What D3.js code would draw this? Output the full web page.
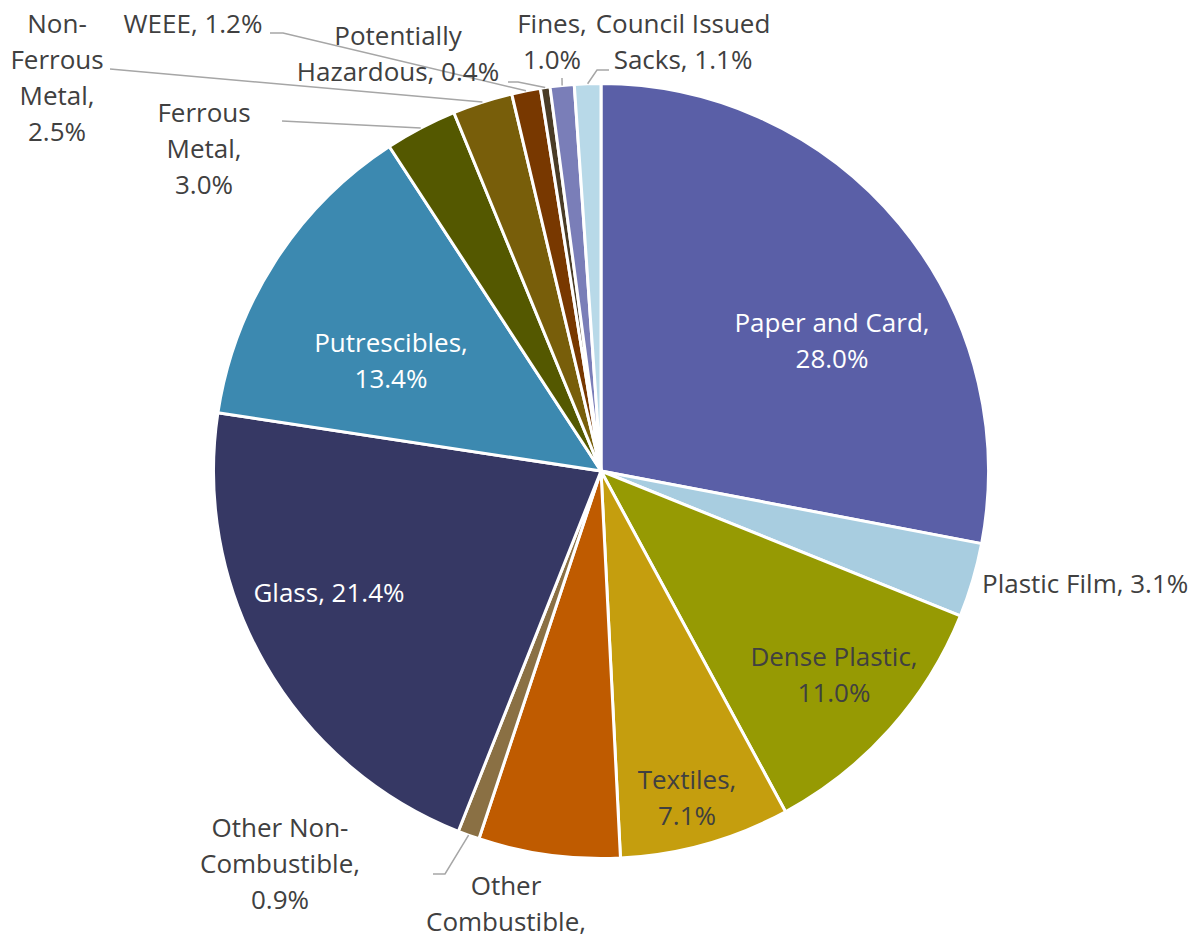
<!DOCTYPE html>
<html>
<head>
<meta charset="utf-8">
<script src="https://cdn.jsdelivr.net/npm/d3@7"></script>
<style>
  html, body { margin: 0; padding: 0; background: #fff; }
  svg { display: block; }
  text { font-family: "Open Sans", "Noto Sans", sans-serif; font-size: 26px; }
</style>
</head>
<body>
<svg id="chart" width="1196" height="935"></svg>
<script>
// ---- data ----
const categories = [
  "Paper and Card", "Plastic Film", "Dense Plastic", "Textiles",
  "Other Combustible", "Other Non-Combustible", "Glass", "Putrescibles",
  "Ferrous Metal", "Non-Ferrous Metal", "WEEE", "Potentially Hazardous",
  "Fines", "Council Issued Sacks"
];
const values = [28.0, 3.1, 11.0, 7.1, 5.9, 0.9, 21.4, 13.4, 3.0, 2.5, 1.2, 0.4, 1.0, 1.1];
const colors = [
  "#5A5FA7", "#A8CDE0", "#969A03", "#C59E0E",
  "#BF5B00", "#8A7044", "#363864", "#3C89B0",
  "#545800", "#785E0A", "#783800", "#4A3C26",
  "#7A7EB8", "#B8D9E8"
];

// ---- label layout (styling only) ----
// anchor, x, first baseline y, tokens per line, fill, leader path (start points before slice edge)
const labelLayout = [
  {a: "middle", x: 832, y: 332, br: [3, 1], fill: "#fff"},
  {a: "start", x: 982, y: 593, br: [3], fill: "#404040"},
  {a: "middle", x: 834, y: 666, br: [2, 1], fill: "#404040"},
  {a: "middle", x: 687, y: 789, br: [1, 1], fill: "#404040"},
  {a: "middle", x: 506, y: 895, br: [1, 1, 1], fill: "#404040"},
  {a: "middle", x: 280, y: 837, br: [2, 1, 1], fill: "#404040", lead: [[433, 874], [445, 874]]},
  {a: "middle", x: 329, y: 602, br: [2], fill: "#fff"},
  {a: "middle", x: 391, y: 352, br: [1, 1], fill: "#fff"},
  {a: "middle", x: 204, y: 122, br: [1, 1, 1], fill: "#404040", lead: [[282, 121]]},
  {a: "middle", x: 57, y: 33, br: [1, 1, 1, 1], fill: "#404040", lead: [[110, 69]]},
  {a: "middle", x: 193, y: 33, br: [2], fill: "#404040", lead: [[270, 33], [283, 33]]},
  {a: "middle", x: 398, y: 45, br: [1, 2], fill: "#404040", lead: [[508, 82], [518, 82]]},
  {a: "middle", x: 552, y: 33, br: [1, 1], fill: "#404040", lead: [[562, 78]]},
  {a: "middle", x: 683, y: 33, br: [2, 2], fill: "#404040", lead: [[609, 70], [597, 70]]}
];

const cx = 601, cy = 471, R = 387.5, lineH = 36;

const svg = d3.select("#chart");
const g = svg.append("g").attr("transform", `translate(${cx},${cy})`);

const pie = d3.pie().sort(null).value(d => d.v).startAngle(0).endAngle(2 * Math.PI);
const data = categories.map((c, i) => ({c, v: values[i], i}));
const arcs = pie(data);
const arc = d3.arc().innerRadius(0).outerRadius(R);

g.selectAll("path.slice").data(arcs).enter().append("path")
  .attr("class", "slice")
  .attr("d", arc)
  .attr("fill", d => colors[d.data.i])
  .attr("stroke", "#fff")
  .attr("stroke-width", 3)
  .attr("stroke-linejoin", "round");

// leader lines
const line = d3.line();
arcs.forEach(d => {
  const L = labelLayout[d.data.i];
  if (!L.lead) return;
  const mid = (d.startAngle + d.endAngle) / 2;
  const ex = cx + R * Math.sin(mid), ey = cy - R * Math.cos(mid);
  svg.append("path")
    .attr("d", line([...L.lead, [ex, ey]]))
    .attr("fill", "none")
    .attr("stroke", "#A6A6A6")
    .attr("stroke-width", 1.5);
});

// labels
function tokens(s) {
  const out = [];
  s.split(" ").forEach(w => {
    const parts = w.split(/(?<=-)/);
    parts.forEach(p => out.push(p));
  });
  return out;
}
function joinTok(arr) {
  let s = "";
  arr.forEach((t, k) => {
    if (k === 0) s = t;
    else s += (s.endsWith("-") ? "" : " ") + t;
  });
  return s;
}
arcs.forEach(d => {
  const L = labelLayout[d.data.i];
  const full = `${d.data.c}, ${d.data.v.toFixed(1)}%`;
  const tk = tokens(full);
  const lines = [];
  let p = 0;
  L.br.forEach(n => { lines.push(joinTok(tk.slice(p, p + n))); p += n; });
  const t = svg.append("text")
    .attr("text-anchor", L.a)
    .attr("fill", L.fill);
  lines.forEach((ln, k) => {
    t.append("tspan").attr("x", L.x).attr("y", L.y + k * lineH).text(ln);
  });
});
</script>
</body>
</html>
